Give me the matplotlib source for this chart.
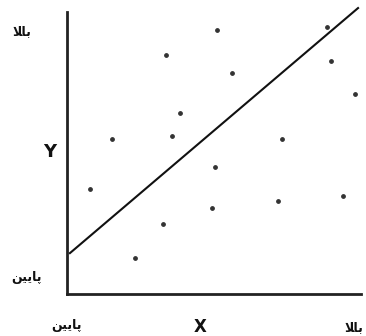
import numpy as np
import matplotlib
matplotlib.use('Agg')
import matplotlib.pyplot as plt

# scatter points (0-10 scale on both axes)
x_pts = [3.37, 5.10, 5.61, 8.84, 8.98, 9.80, 3.84, 3.57, 1.53, 7.31,
         5.03, 0.78, 3.27, 4.93, 7.18, 9.39, 2.31]
y_pts = [8.48, 9.36, 7.84, 9.47, 8.26, 7.09, 6.42, 5.60, 5.50, 5.50,
         4.50, 3.72, 2.48, 3.05, 3.30, 3.48, 1.28]

# regression line end points
line_x = [0.10, 9.90]
line_y = [1.45, 10.14]

# Persian labels written in presentation forms (visual order)
high = '\ufefc\ufe8e\ufe91'            # بالا
low = '\ufee6\ufbff\ufbfe\ufe8e\ufb58'  # پایین

W, H = 366, 336
fig = plt.figure(figsize=(W / 100, H / 100), dpi=100)
ax = fig.add_axes([67 / W, 1 - 294 / H, (361 - 67) / W, (294 - 12) / H])

ax.scatter(x_pts, y_pts, s=6, c='#333333', zorder=3)
ax.plot(line_x, line_y, color='#111111', lw=1.5, clip_on=False)

ax.set_xlim(0, 10)
ax.set_ylim(0, 10)
ax.set_xticks([])
ax.set_yticks([])
for side in ['top', 'right']:
    ax.spines[side].set_visible(False)
for side in ['left', 'bottom']:
    ax.spines[side].set_linewidth(2)
    ax.spines[side].set_color('#222222')


def put(px, py, s, size, weight='bold'):
    fig.text(px / W, 1 - py / H, s, fontsize=size, fontweight=weight,
             ha='center', va='center', color='#111111', family='DejaVu Sans')


put(22, 32, high, 9)
put(50, 152, 'Y', 13)
put(27, 277, low, 9)
put(67, 326, low, 9)
put(200, 327, 'X', 12)
put(354, 328, high, 9)

fig.savefig('out.png', dpi=100)
